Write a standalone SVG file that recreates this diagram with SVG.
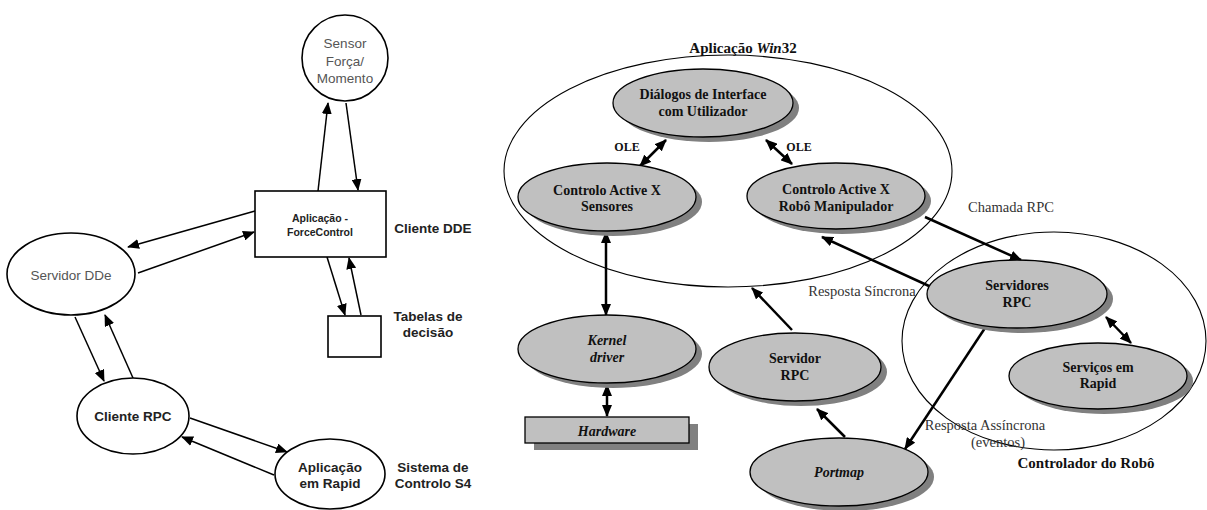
<svg xmlns="http://www.w3.org/2000/svg" width="1207" height="510" viewBox="0 0 1207 510">
<defs>
<marker id="ah" markerWidth="12" markerHeight="10" refX="11" refY="5" orient="auto" markerUnits="userSpaceOnUse"><path d="M0,0 L12,5 L0,10 z" fill="#000"/></marker>
<marker id="ahs" markerWidth="12" markerHeight="10" refX="1" refY="5" orient="auto" markerUnits="userSpaceOnUse"><path d="M12,0 L0,5 L12,10 z" fill="#000"/></marker>
<style>
.ln{stroke:#000;stroke-width:1.5;fill:none}
.lb{stroke:#000;stroke-width:2.5;fill:none}
.n{fill:#fff;stroke:#000;stroke-width:1.6}
.g{fill:#c0c0c0;stroke:#000;stroke-width:1.3}
.sh{fill:#808080}
.grp{fill:none;stroke:#000;stroke-width:1.1}
.sa{font-family:"Liberation Sans",Arial,sans-serif;text-anchor:middle;dominant-baseline:central}
.sag{font-size:13.5px;fill:#555}
.sab{font-size:13.5px;font-weight:bold;fill:#222}
.sas{font-size:10.5px;font-weight:bold;fill:#222}
.se{font-family:"Liberation Serif","Times New Roman",serif;text-anchor:middle;dominant-baseline:central;fill:#111}
.seb{font-size:14px;font-weight:bold}
.sebi{font-size:14px;font-weight:bold;font-style:italic}
.ser{font-size:14.5px;fill:#333}
.sos{font-size:12px;font-weight:bold}
.st{font-size:15px;font-weight:bold}
</style>
</defs>
<rect width="1207" height="510" fill="#fff"/>

<!-- connectors -->
<g id="connectors">
<line class="ln" x1="318" y1="191" x2="328" y2="103" marker-end="url(#ah)"/>
<line class="ln" x1="346" y1="103" x2="358" y2="190" marker-end="url(#ah)"/>
<line class="ln" x1="255" y1="211" x2="128" y2="247" marker-end="url(#ah)"/>
<line class="ln" x1="138" y1="273" x2="254" y2="232" marker-end="url(#ah)"/>
<line class="ln" x1="327" y1="257" x2="345" y2="315" marker-end="url(#ah)"/>
<line class="ln" x1="361" y1="315" x2="349" y2="258" marker-end="url(#ah)"/>
<line class="ln" x1="75" y1="317" x2="104" y2="381" marker-end="url(#ah)"/>
<line class="ln" x1="133" y1="378" x2="105" y2="315" marker-end="url(#ah)"/>
<line class="ln" x1="190" y1="418" x2="287" y2="452" marker-end="url(#ah)"/>
<line class="ln" x1="274" y1="475" x2="182" y2="437" marker-end="url(#ah)"/>

<line class="lb" x1="640" y1="166" x2="666" y2="140" marker-start="url(#ahs)" marker-end="url(#ah)"/>
<line class="lb" x1="766" y1="140" x2="792" y2="164" marker-start="url(#ahs)" marker-end="url(#ah)"/>
<line class="lb" x1="606" y1="232" x2="606" y2="315" marker-start="url(#ahs)" marker-end="url(#ah)"/>
<line class="lb" x1="607" y1="385" x2="607" y2="416" marker-start="url(#ahs)" marker-end="url(#ah)"/>
<line class="lb" x1="792" y1="330" x2="752" y2="288" marker-end="url(#ah)"/>
<line class="lb" x1="845" y1="437" x2="817" y2="409" marker-end="url(#ah)"/>
<line class="lb" x1="925" y1="217" x2="1021" y2="260" marker-end="url(#ah)"/>
<line class="lb" x1="929" y1="286" x2="822" y2="237" marker-end="url(#ah)"/>
<line class="lb" x1="985" y1="328" x2="905" y2="449" marker-end="url(#ah)"/>
<line class="lb" x1="1106" y1="317" x2="1131" y2="343" marker-start="url(#ahs)" marker-end="url(#ah)"/>
</g>

<!-- left diagram nodes -->
<g id="sensor">
<circle class="n" cx="345" cy="58" r="43"/>
<text class="sa sag" x="345" y="43">Sensor</text>
<text class="sa sag" x="345" y="61">Força/</text>
<text class="sa sag" x="345" y="78">Momento</text>
</g>
<g id="aplicacao-fc">
<rect class="n" x="255" y="191" width="131" height="66"/>
<text class="sa sas" x="320" y="218">Aplicação -</text>
<text class="sa sas" x="320" y="232">ForceControl</text>
</g>
<text class="sa sab" x="433" y="228">Cliente DDE</text>
<g id="servidor-dde">
<ellipse class="n" cx="71" cy="274" rx="64" ry="41"/>
<text class="sa sag" x="71" y="275">Servidor DDe</text>
</g>
<g id="tabelas">
<rect class="n" x="328" y="316" width="53" height="41"/>
</g>
<text class="sa sab" x="428" y="316">Tabelas de</text>
<text class="sa sab" x="428" y="332">decisão</text>
<g id="cliente-rpc">
<ellipse class="n" cx="133" cy="416" rx="56" ry="38"/>
<text class="sa sab" x="133" y="416">Cliente RPC</text>
</g>
<g id="aplicacao-rapid">
<ellipse class="n" cx="330" cy="474" rx="55" ry="35"/>
<text class="sa sab" x="330" y="467">Aplicação</text>
<text class="sa sab" x="330" y="483">em Rapid</text>
</g>
<text class="sa sab" x="433" y="467">Sistema de</text>
<text class="sa sab" x="433" y="483">Controlo S4</text>

<!-- right diagram -->
<g id="aplicacao-win32">
<ellipse class="grp" cx="728" cy="171" rx="224" ry="116"/>
<text class="se st" x="743" y="48">Aplicação <tspan font-style="italic">Win</tspan>32</text>
</g>
<g id="controlador">
<ellipse class="grp" cx="1054" cy="341" rx="152" ry="109"/>
<text class="se st" x="1086" y="463">Controlador do Robô</text>
</g>
<g id="dialogos">
<ellipse class="sh" cx="709" cy="108" rx="90" ry="34"/>
<ellipse class="g" cx="703" cy="103" rx="90" ry="34"/>
<text class="se seb" x="703" y="94">Diálogos de Interface</text>
<text class="se seb" x="703" y="111">com Utilizador</text>
</g>
<g id="activex-sensores">
<ellipse class="sh" cx="613" cy="202" rx="89" ry="34"/>
<ellipse class="g" cx="607" cy="197" rx="89" ry="34"/>
<text class="se seb" x="607" y="190">Controlo Active X</text>
<text class="se seb" x="607" y="206">Sensores</text>
</g>
<g id="activex-robo">
<ellipse class="sh" cx="842" cy="201" rx="89" ry="33"/>
<ellipse class="g" cx="836" cy="196" rx="89" ry="33"/>
<text class="se seb" x="836" y="189">Controlo Active X</text>
<text class="se seb" x="836" y="206">Robô Manipulador</text>
</g>
<text class="se sos" x="627" y="147">OLE</text>
<text class="se sos" x="799" y="147">OLE</text>
<g id="kernel">
<ellipse class="sh" cx="613" cy="354" rx="89" ry="34"/>
<ellipse class="g" cx="607" cy="349" rx="89" ry="34"/>
<text class="se sebi" x="607" y="340">Kernel</text>
<text class="se sebi" x="607" y="357">driver</text>
</g>
<g id="hardware">
<rect class="sh" x="534" y="424" width="164" height="26"/>
<rect class="g" x="525" y="417" width="164" height="26" stroke-width="1.6"/>
<text class="se sebi" x="607" y="431">Hardware</text>
</g>
<g id="servidor-rpc">
<ellipse class="sh" cx="801" cy="372" rx="86" ry="34"/>
<ellipse class="g" cx="795" cy="367" rx="86" ry="34"/>
<text class="se seb" x="795" y="358">Servidor</text>
<text class="se seb" x="795" y="375">RPC</text>
</g>
<g id="portmap">
<ellipse class="sh" cx="845" cy="477" rx="89" ry="34"/>
<ellipse class="g" cx="839" cy="472" rx="89" ry="34"/>
<text class="se sebi" x="839" y="472">Portmap</text>
</g>
<g id="servidores-rpc">
<ellipse class="sh" cx="1023" cy="299" rx="90" ry="34"/>
<ellipse class="g" cx="1017" cy="294" rx="90" ry="34"/>
<text class="se seb" x="1017" y="285">Servidores</text>
<text class="se seb" x="1017" y="302">RPC</text>
</g>
<g id="servicos-rapid">
<ellipse class="sh" cx="1104" cy="381" rx="89" ry="33"/>
<ellipse class="g" cx="1098" cy="376" rx="89" ry="33"/>
<text class="se seb" x="1098" y="367">Serviços em</text>
<text class="se seb" x="1098" y="383">Rapid</text>
</g>
<text class="se ser" x="1011" y="207">Chamada RPC</text>
<text class="se ser" x="862" y="291">Resposta Síncrona</text>
<text class="se ser" x="985" y="425">Resposta Assíncrona</text>
<text class="se ser" x="998" y="442">(eventos)</text>
</svg>
